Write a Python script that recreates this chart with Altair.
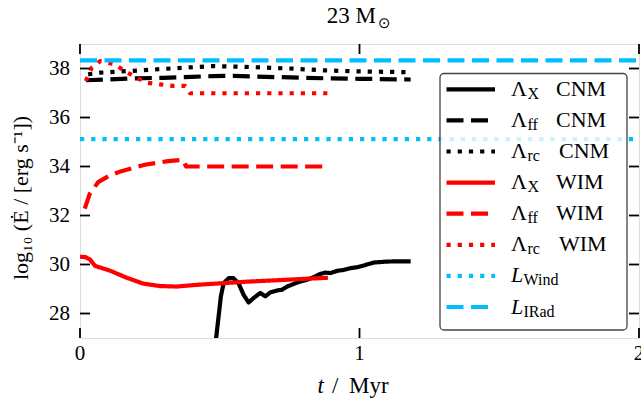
import altair as alt
import pandas as pd

# ---- data: time [Myr] and log10 of the energy rate [erg/s] -------------
cnm_x_t = [0.470, 0.487, 0.496, 0.504, 0.514, 0.532, 0.549, 0.567, 0.585, 0.603,
           0.621, 0.645, 0.663, 0.681, 0.705, 0.723, 0.741, 0.765, 0.789, 0.813,
           0.836, 0.860, 0.878, 0.896, 0.920, 0.944, 0.968, 0.992, 1.015, 1.051,
           1.099, 1.147, 1.183]
cnm_x_v = [26.00, 27.00, 27.89, 28.70, 29.24, 29.44, 29.44, 29.24, 28.77, 28.45,
           28.63, 28.84, 28.70, 28.86, 28.94, 28.97, 29.10, 29.21, 29.31, 29.38,
           29.48, 29.62, 29.67, 29.65, 29.74, 29.78, 29.85, 29.89, 29.96, 30.08,
           30.12, 30.13, 30.13]

cnm_ff_t = [0.021, 0.100, 0.200, 0.300, 0.400, 0.476, 0.550, 0.700, 0.880, 1.000, 1.183]
cnm_ff_v = [37.52, 37.55, 37.60, 37.62, 37.66, 37.69, 37.70, 37.65, 37.60, 37.58, 37.55]

cnm_rc_t = [0.029, 0.072, 0.131, 0.215, 0.310, 0.476, 0.607, 0.750, 0.881, 1.000, 1.183]
cnm_rc_v = [37.76, 37.83, 37.87, 37.92, 37.99, 38.10, 38.06, 38.00, 37.92, 37.88, 37.85]

wim_x_t = [0.000, 0.020, 0.036, 0.054, 0.107, 0.167, 0.226, 0.286, 0.345, 0.430, 0.600, 0.887]
wim_x_v = [30.32, 30.30, 30.20, 29.94, 29.75, 29.46, 29.22, 29.12, 29.10, 29.18, 29.30, 29.46]

wim_ff_t = [0.017, 0.035, 0.065, 0.106, 0.148, 0.232, 0.315, 0.369, 0.380, 0.500, 0.700, 0.887]
wim_ff_v = [32.28, 32.89, 33.36, 33.63, 33.81, 34.07, 34.22, 34.27, 34.00, 34.00, 34.00, 34.00]

wim_rc_t = [0.021, 0.042, 0.072, 0.125, 0.161, 0.197, 0.239, 0.287, 0.334, 0.376, 0.394, 0.600, 0.887]
wim_rc_v = [37.49, 38.03, 38.30, 38.17, 37.89, 37.66, 37.42, 37.35, 37.29, 37.29, 36.99, 36.99, 36.99]

wind_t = [0.0, 2.0]
wind_v = [35.12, 35.12]

irad_t = [0.0, 2.0]
irad_v = [38.33, 38.33]

x_ticks = [0, 1, 2]
y_ticks = [28, 30, 32, 34, 36, 38]

# ---- styling ---------------------------------------------------------------
W, H = 559, 294
FONT = "Liberation Serif"
LW = 4.2
SOLID = [1, 0]
DASH = [17, 7.5]
DOT = [4.2, 7.0]
CYAN = "#00BFFF"

# (main symbol, subscript, suffix, italic symbol, t, values, colour, dash)
series = [
    ("Λ", "X", "CNM", False, cnm_x_t, cnm_x_v, "black", SOLID),
    ("Λ", "ff", "CNM", False, cnm_ff_t, cnm_ff_v, "black", DASH),
    ("Λ", "rc", "CNM", False, cnm_rc_t, cnm_rc_v, "black", DOT),
    ("Λ", "X", "WIM", False, wim_x_t, wim_x_v, "red", SOLID),
    ("Λ", "ff", "WIM", False, wim_ff_t, wim_ff_v, "red", DASH),
    ("Λ", "rc", "WIM", False, wim_rc_t, wim_rc_v, "red", DOT),
    ("L", "Wind", "", True, wind_t, wind_v, CYAN, DOT),
    ("L", "IRad", "", True, irad_t, irad_v, CYAN, DASH),
]

xscale = alt.Scale(domain=[0, 2], nice=False, zero=False)
yscale = alt.Scale(domain=[27, 39], nice=False, zero=False)

one = pd.DataFrame({"k": [0]})

layers = []

# curves
for i, (sym, sub, suf, ital, ts, vs, col, dash) in enumerate(series):
    df = pd.DataFrame({"t": ts, "v": vs})
    line = alt.Chart(df).mark_line(
        clip=True, strokeWidth=LW, strokeCap="butt", strokeJoin="round"
    ).encode(
        x=alt.X("t:Q", scale=xscale, axis=None),
        y=alt.Y("v:Q", scale=yscale, axis=None),
        order="t:Q",
        color=alt.value(col),
        strokeDash=alt.value(dash),
    )
    layers.append(line)

# inward ticks on all four sides
ytk = pd.DataFrame({"v": y_ticks})
xtk = pd.DataFrame({"t": x_ticks})
for xa, xb in [(0, 10), (W - 10, W)]:
    layers.append(alt.Chart(ytk).mark_rule(color="black", strokeWidth=1.8).encode(
        y=alt.Y("v:Q", scale=yscale, axis=None), x=alt.value(xa), x2=alt.value(xb)))
for ya, yb in [(H - 10, H), (0, 10)]:
    layers.append(alt.Chart(xtk).mark_rule(color="black", strokeWidth=1.8).encode(
        x=alt.X("t:Q", scale=xscale, axis=None), y=alt.value(ya), y2=alt.value(yb)))

# tick labels
layers.append(alt.Chart(xtk).mark_text(
    font=FONT, fontSize=21, baseline="alphabetic", align="center", color="black"
).encode(x=alt.X("t:Q", scale=xscale, axis=None), y=alt.value(H + 22),
         text=alt.Text("t:Q", format="d")))
layers.append(alt.Chart(ytk).mark_text(
    font=FONT, fontSize=21, baseline="middle", align="right", color="black"
).encode(y=alt.Y("v:Q", scale=yscale, axis=None), x=alt.value(-10),
         text=alt.Text("v:Q", format="d")))

# y-axis title
layers.append(alt.Chart(one).mark_text(
    text="log₁₀ (Ė / [erg s⁻¹])", font=FONT, fontSize=22, angle=270,
    align="center", baseline="alphabetic", color="black"
).encode(x=alt.value(-52), y=alt.value(154)))

# legend box
LX0, LX1, LY0, LY1 = 360, 547, 29.5, 286
layers.append(alt.Chart(one).mark_rect(
    fill="white", fillOpacity=0.8, stroke="#444444", strokeWidth=1.3, cornerRadius=4
).encode(x=alt.value(LX0), x2=alt.value(LX1), y=alt.value(LY0), y2=alt.value(LY1)))

ROW0, ROWSTEP = 45.3, 31.1
suffix_x = {"X": 476, "ff": 476, "rc": 479}
for i, (sym, sub, suf, ital, ts, vs, col, dash) in enumerate(series):
    yc = ROW0 + ROWSTEP * i
    layers.append(alt.Chart(one).mark_rule(strokeWidth=LW, strokeCap="butt").encode(
        x=alt.value(366.5), x2=alt.value(415), y=alt.value(yc),
        color=alt.value(col), strokeDash=alt.value(dash)))
    layers.append(alt.Chart(one).mark_text(
        text=sym, font=FONT, fontSize=22, align="left", baseline="alphabetic",
        fontStyle="italic" if ital else "normal", color="black"
    ).encode(x=alt.value(431), y=alt.value(yc + 6.5)))
    layers.append(alt.Chart(one).mark_text(
        text=sub, font=FONT, fontSize=16, align="left", baseline="alphabetic",
        color="black"
    ).encode(x=alt.value(443.5 if ital else 447.5), y=alt.value(yc + 9.5)))
    if suf:
        layers.append(alt.Chart(one).mark_text(
            text=suf, font=FONT, fontSize=22, align="left", baseline="alphabetic",
            color="black"
        ).encode(x=alt.value(suffix_x[sub]), y=alt.value(yc + 6.5)))

# title "23 M_sun"
layers.append(alt.Chart(one).mark_text(
    text="23 M", font=FONT, fontSize=23, align="right", baseline="alphabetic",
    color="black").encode(x=alt.value(296), y=alt.value(-21)))
layers.append(alt.Chart(one).mark_text(
    text="⊙", font="DejaVu Sans", fontSize=15, align="left", baseline="alphabetic",
    color="black").encode(x=alt.value(298), y=alt.value(-16)))

# x-axis title "t / Myr"
layers.append(alt.Chart(one).mark_text(
    text="t", font=FONT, fontSize=23, fontStyle="italic", align="right",
    baseline="alphabetic", color="black").encode(x=alt.value(244), y=alt.value(349)))
layers.append(alt.Chart(one).mark_text(
    text="/", font=FONT, fontSize=23, align="left",
    baseline="alphabetic", color="black").encode(x=alt.value(252), y=alt.value(349)))
layers.append(alt.Chart(one).mark_text(
    text="Myr", font=FONT, fontSize=23, align="left",
    baseline="alphabetic", color="black").encode(x=alt.value(269), y=alt.value(349)))

chart = alt.layer(*layers).properties(
    width=W, height=H,
    autosize=alt.AutoSizeParams(type="none"),
    padding={"left": 80, "top": 44, "right": 2, "bottom": 68},
).configure_view(
    stroke="black", strokeWidth=2.2
).configure(background="white")

chart.save("out.html", embed_options={"renderer": "svg", "actions": False})
